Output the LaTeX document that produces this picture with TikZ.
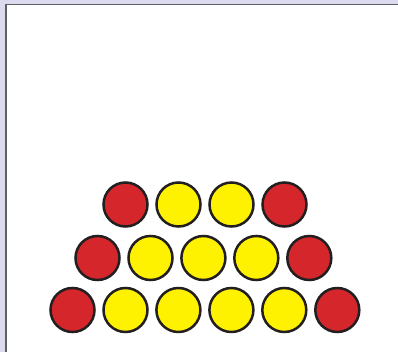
\documentclass[tikz,border=0pt]{standalone}
\begin{document}
\begin{tikzpicture}[x=1pt,y=-1pt,
  chip/.style={circle,draw=chipline,line width=2.5pt,minimum size=44pt,inner sep=0pt},
  redchip/.style={chip,fill=chipred},
  yellowchip/.style={chip,fill=chipyellow}]
\definecolor{chipred}{HTML}{D5262C}
\definecolor{chipyellow}{HTML}{FFF200}
\definecolor{chipline}{HTML}{231F20}
\definecolor{lav}{HTML}{DCDAEE}
\definecolor{frameline}{HTML}{5E5E66}
\useasboundingbox (0,0) rectangle (398,352);
\fill[lav] (0,0) rectangle (398,352);
\fill[white] (5,4) rectangle (398,352);
\draw[frameline,line width=1.6pt] (6,352) -- (6,4.7) -- (398,4.7);
% row 1
\node[redchip] (a1) at (125.5,204.5) {};
\node[yellowchip] (a2) at (178.5,204.5) {};
\node[yellowchip] (a3) at (231.5,204.5) {};
\node[redchip] (a4) at (284.5,204.5) {};
% row 2
\node[redchip] (b1) at (97.5,258) {};
\node[yellowchip] (b2) at (150.5,258) {};
\node[yellowchip] (b3) at (203.4,258) {};
\node[yellowchip] (b4) at (256.3,258) {};
\node[redchip] (b5) at (309.3,258) {};
% row 3
\node[redchip] (c1) at (72.5,310) {};
\node[yellowchip] (c2) at (125.5,310) {};
\node[yellowchip] (c3) at (178.4,310) {};
\node[yellowchip] (c4) at (231.4,310) {};
\node[yellowchip] (c5) at (284.3,310) {};
\node[redchip] (c6) at (337.3,310) {};
\end{tikzpicture}
\end{document}
